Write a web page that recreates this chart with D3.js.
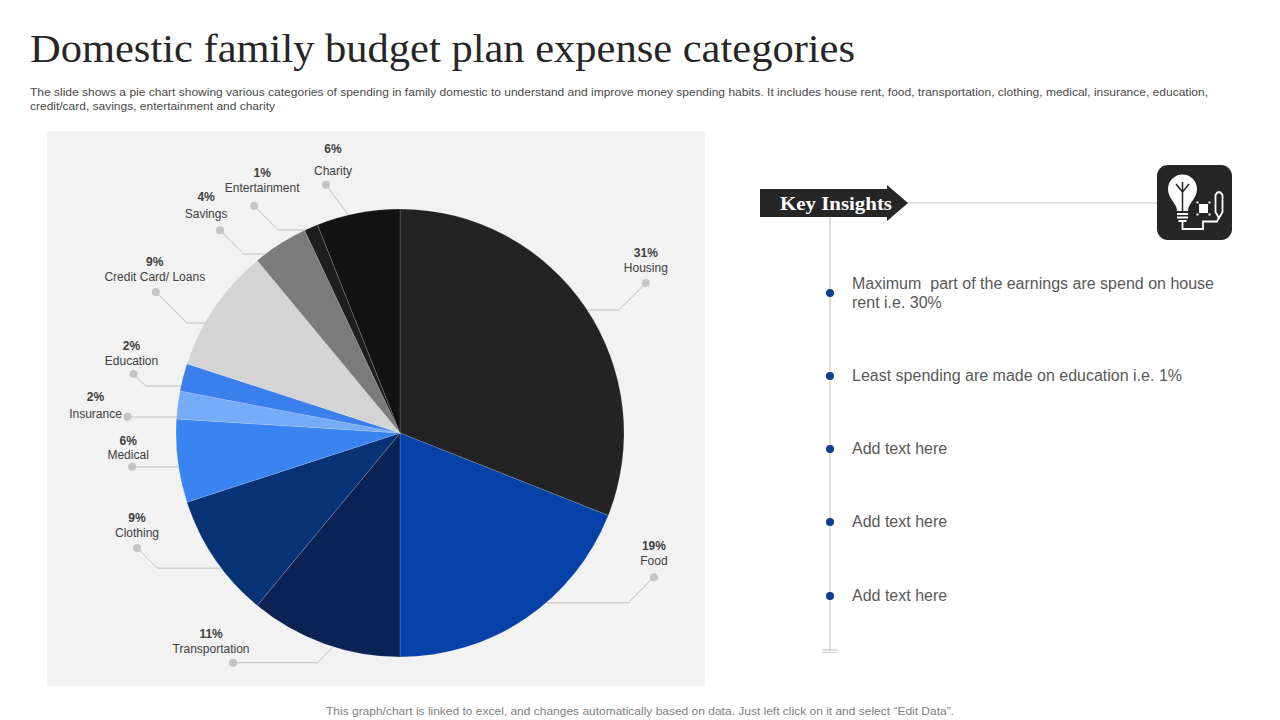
<!DOCTYPE html>
<html><head><meta charset="utf-8">
<script src="https://cdn.jsdelivr.net/npm/d3@7"></script>
<style>
html,body{margin:0;padding:0;background:#fff;}
svg{display:block;}
</style>
</head><body>
<svg id="chart" width="1280" height="720"></svg>
<script>
// ---------- DATA ----------
const categories = ["Housing","Food","Transportation","Clothing","Medical","Insurance","Education","Credit Card/ Loans","Savings","Entertainment","Charity"];
const values = [31,19,11,9,6,2,2,9,4,1,6];
const sliceColors = ["#232323","#0641a8","#0a2254","#073275","#3a84f2","#76abf7","#3b7fed","#d4d4d4","#7b7b7b","#1e1e1e","#121212"];
const insights = ["Maximum  part of the earnings are spend on house|rent i.e. 30%","Least spending are made on education i.e. 1%","Add text here","Add text here","Add text here"];

// ---------- LAYOUT (label placement, not data) ----------
// a: dot angle (deg), r: dot radius, e: leader edge angle (deg), tx/ty: name offset from dot, pg: gap pct->name, mode
const labelLayout = [
  {a:58.6, r:288, e:56.7, tx:0, ty:-11, pg:15, mode:"d"},
  {a:119.6,r:292, e:139.3,tx:0, ty:-12, pg:15, mode:"d"},
  {a:216, r:284, e:197.3, tx:-22,ty:-10, pg:15, mode:"h"},
  {a:246.4,r:287, e:232.9,tx:0, ty:-11, pg:15, mode:"d"},
  {a:262.8,r:270, e:261.3,tx:-4, ty:-8, pg:14, mode:"d"},
  {a:273.4,r:273, e:274.1,tx:-32,ty:1, pg:17, mode:"d"},
  {a:282.5,r:273, e:282.1,tx:-2, ty:-9, pg:15, mode:"d"},
  {a:300, r:282, e:299.4, tx:-1, ty:-11, pg:15, mode:"d"},
  {a:318.4,r:271, e:323, tx:-14,ty:-12, pg:17, mode:"d"},
  {a:327.3,r:270, e:335, tx:8, ty:-14, pg:15, mode:"d"},
  {a:343.4,r:259, e:346.7,tx:7, ty:-10, pg:22, mode:"d"}
];

const svg = d3.select("#chart");
const SANS = "'Liberation Sans', Arial, sans-serif";

// Title
svg.append("text").attr("x",30).attr("y",62)
  .attr("font-family","'Liberation Serif','DejaVu Serif',serif").attr("font-size",40)
  .attr("fill","#262626")
  .attr("textLength",825).attr("lengthAdjust","spacingAndGlyphs")
  .text("Domestic family budget plan expense categories");

// Subtitle
svg.append("text").attr("x",30).attr("y",96).attr("font-family",SANS).attr("font-size",11).attr("fill","#4a4a4a")
  .attr("textLength",1178).attr("lengthAdjust","spacingAndGlyphs")
  .text("The slide shows a pie chart showing various categories of spending in family domestic to understand and improve money spending habits. It includes house rent, food, transportation, clothing, medical, insurance, education,");
svg.append("text").attr("x",30).attr("y",110).attr("font-family",SANS).attr("font-size",11).attr("fill","#4a4a4a")
  .attr("textLength",245).attr("lengthAdjust","spacingAndGlyphs")
  .text("credit/card, savings, entertainment and charity");

// Panel
svg.append("rect").attr("x",47).attr("y",131).attr("width",658).attr("height",555).attr("fill","#f2f2f2");

// Pie
const cx = 400, cy = 433, R = 224;
const pie = d3.pie().sort(null).value(d=>d)(values);
const arc = d3.arc().innerRadius(0).outerRadius(R);
const color = d3.scaleOrdinal().domain(categories).range(sliceColors);
const g = svg.append("g").attr("transform",`translate(${cx},${cy})`);
g.selectAll("path.slice").data(pie).join("path").attr("class","slice")
  .attr("d",arc).attr("fill",(d,i)=>color(categories[i]))
  .attr("stroke","rgba(255,255,255,0.25)").attr("stroke-width",0.6);

// Labels
const toXY = (deg, r) => { const t = deg*Math.PI/180; return [r*Math.sin(t), -r*Math.cos(t)]; };
const lg = g.append("g");
pie.forEach((p,i)=>{
  const L = labelLayout[i];
  const dot = toXY(L.a, L.r);
  const edge = toXY(L.e, R);
  let pts;
  const dx = edge[0]-dot[0], dy = edge[1]-dot[1];
  const sx = Math.sign(dx)||1;
  if (Math.abs(dy) >= Math.abs(dx)) pts = [dot, edge];
  else if (L.mode==="d") pts = [dot, [dot[0]+sx*Math.abs(dy), edge[1]], edge];
  else pts = [dot, [edge[0]-sx*Math.abs(dy), dot[1]], edge];
  lg.append("path").attr("d", d3.line()(pts)).attr("fill","none").attr("stroke","#bfbfbf").attr("stroke-width",1);
  lg.append("circle").attr("cx",dot[0]).attr("cy",dot[1]).attr("r",4).attr("fill","#c4c4c4");
  const nx = dot[0]+L.tx, ny = dot[1]+L.ty;
  lg.append("text").attr("x",nx).attr("y",ny).attr("text-anchor","middle")
    .attr("font-family",SANS).attr("font-size",12).attr("fill","#404040").text(categories[i]);
  lg.append("text").attr("x",nx).attr("y",ny-L.pg).attr("text-anchor","middle")
    .attr("font-family",SANS).attr("font-size",12).attr("font-weight","bold").attr("fill","#404040")
    .text(Math.round(p.data)+"%");
});

// Key Insights banner
svg.append("line").attr("x1",905).attr("x2",1160).attr("y1",203).attr("y2",203).attr("stroke","#bfbfbf").attr("stroke-width",1);
svg.append("line").attr("x1",830).attr("x2",830).attr("y1",215).attr("y2",651).attr("stroke","#bfbfbf").attr("stroke-width",1);
svg.append("line").attr("x1",822).attr("x2",838).attr("y1",650).attr("y2",650).attr("stroke","#bfbfbf").attr("stroke-width",1);
svg.append("line").attr("x1",822).attr("x2",838).attr("y1",652.5).attr("y2",652.5).attr("stroke","#d0d0d0").attr("stroke-width",1);
svg.append("path").attr("d","M760,189 L887,189 L887,185 L908,203 L887,221 L887,217 L760,217 Z").attr("fill","#262626");
svg.append("text").attr("x",836).attr("y",210).attr("text-anchor","middle")
  .attr("font-family","'Liberation Serif','DejaVu Serif',serif").attr("font-size",19).attr("font-weight","bold")
  .attr("fill","#ffffff").attr("textLength",112).attr("lengthAdjust","spacingAndGlyphs").text("Key Insights");

// Icon
const ic = svg.append("g");
ic.append("rect").attr("x",1157).attr("y",165).attr("width",75).attr("height",75).attr("rx",11).attr("fill","#262626");
const ws = {fill:"none",stroke:"#fff","stroke-width":1.8};
const P = (d)=>{const p=ic.append("path").attr("d",d); Object.entries(ws).forEach(([k,v])=>p.attr(k,v)); return p;};
// bulb (filled white glass like reference)
ic.append("path").attr("d","M1177,211 C1177,203 1168,199 1168,189 A14.5,14.5 0 1 1 1197,189 C1197,199 1188,203 1188,211 Z").attr("fill","#ffffff");
// filament (dark on white)
ic.append("path").attr("d","M1182.5,211 L1182.5,192 M1176,184 L1182.5,192 L1189,184 M1182.5,192 L1182.5,182")
  .attr("fill","none").attr("stroke","#262626").attr("stroke-width",1.5);
// base stripes
P("M1177,214 L1188,214 M1177,217.5 L1188,217.5 M1178.5,221 L1186.5,221");
// wire
P("M1182.5,222 L1182.5,229 L1203,229 L1203,221.5 L1217,221.5 L1219,217");
// pencil
P("M1215.5,195 L1215.5,212 L1219,218 L1222.5,212 L1222.5,195 Q1219,189 1215.5,195 Z");
// small chip
ic.append("rect").attr("x",1199).attr("y",204).attr("width",9).attr("height",9).attr("fill","#fff");
[[1196.5,201.5],[1208.5,201.5],[1196.5,213.5],[1208.5,213.5]].forEach(c=>ic.append("rect").attr("x",c[0]).attr("y",c[1]).attr("width",2).attr("height",2).attr("fill","#fff"));

// Insight bullets
const bulletY = [293,376,449,522,596];
insights.forEach((t,i)=>{
  svg.append("circle").attr("cx",830).attr("cy",bulletY[i]).attr("r",4).attr("fill","#0b3d91");
  const lines = t.split("|");
  lines.forEach((ln,j)=>{
    const y0 = lines.length>1 ? bulletY[i]-4 : bulletY[i]+5;
    svg.append("text").attr("x",852).attr("y",y0+j*19).attr("font-family",SANS).attr("font-size",16)
      .attr("fill","#595959").attr("xml:space","preserve").style("white-space","pre").text(ln);
  });
});

// Footer
svg.append("text").attr("x",640).attr("y",715).attr("text-anchor","middle").attr("font-family",SANS)
  .attr("font-size",11).attr("fill","#7f7f7f").attr("textLength",628).attr("lengthAdjust","spacingAndGlyphs")
  .text("This graph/chart is linked to excel,  and changes automatically based on data. Just left click on it and select “Edit Data”.");
</script>
</body></html>
